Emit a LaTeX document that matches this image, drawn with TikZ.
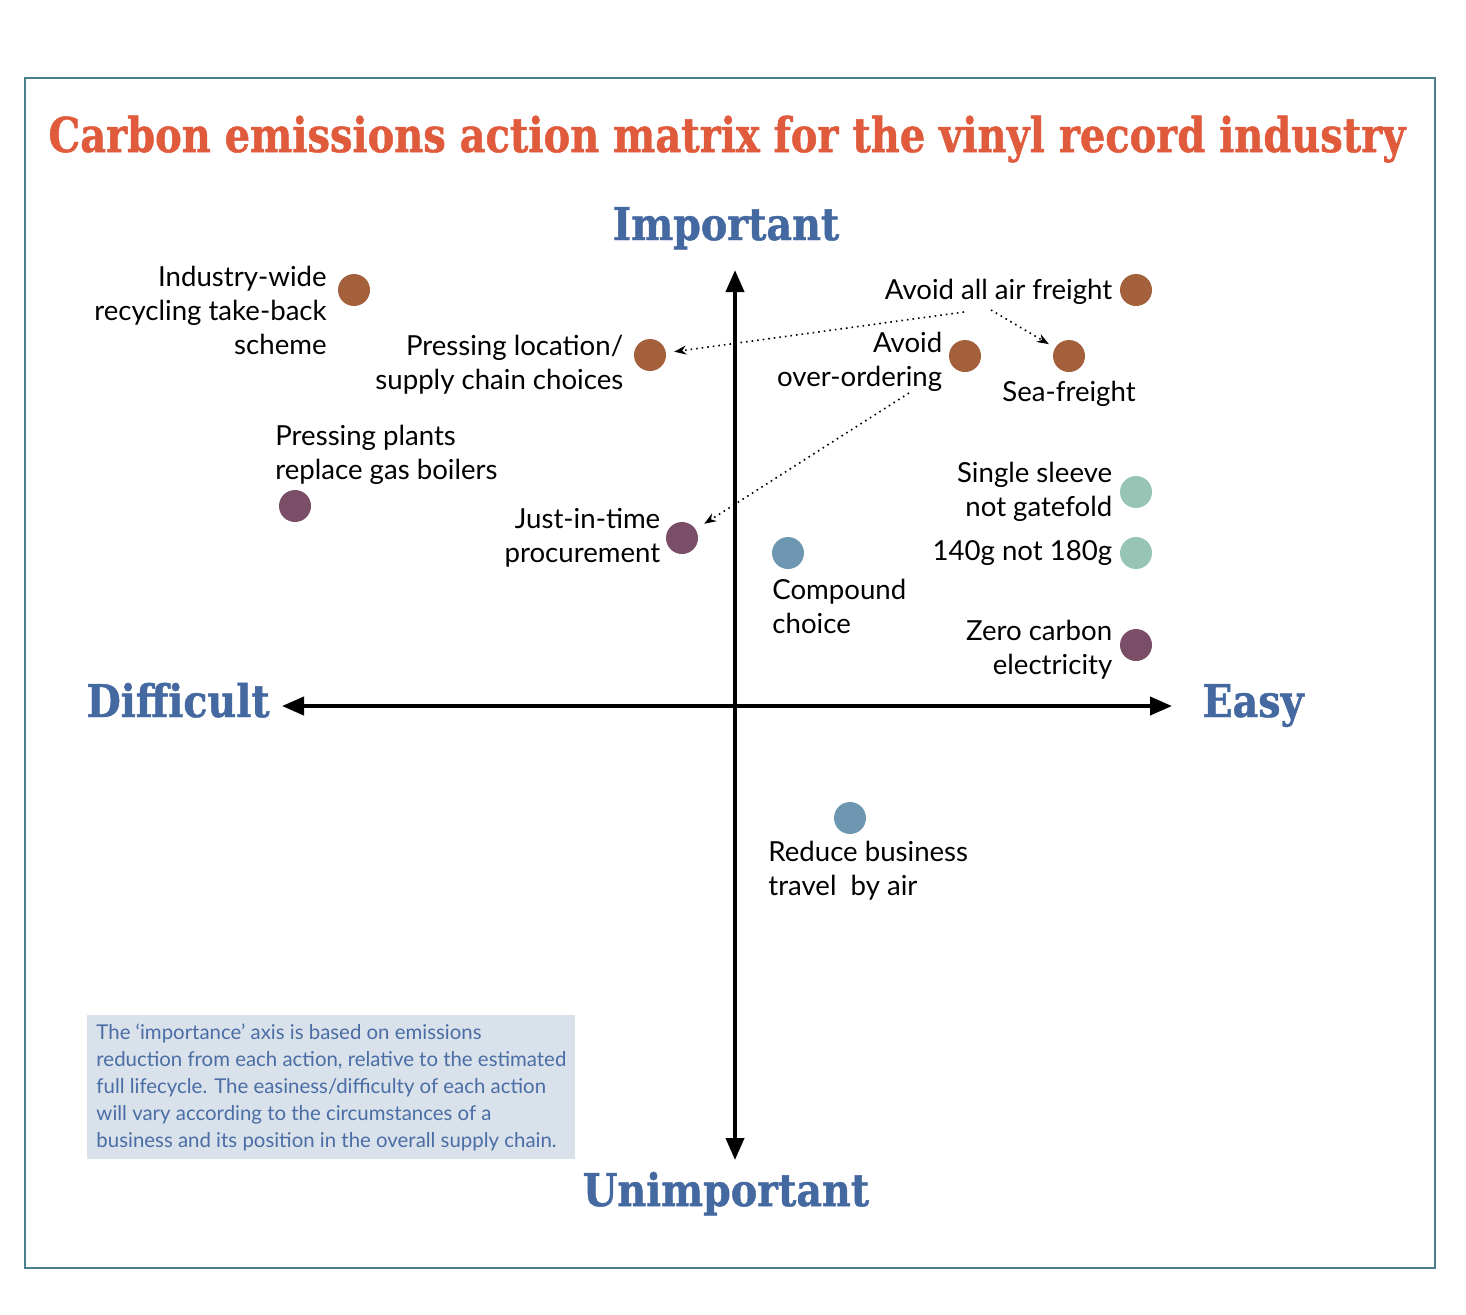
\documentclass[tikz,border=0pt]{standalone}
\usepackage{fontspec}
\setmainfont{Lato}
\newfontfamily\slabfont{DejaVu Serif}[FakeStretch=0.832,FakeBold=1]
\newfontfamily\axisfont{DejaVu Serif}[FakeStretch=0.88,FakeBold=1]
\usetikzlibrary{arrows.meta,positioning}
\definecolor{titlered}{HTML}{E05A3C}
\definecolor{axisblue}{HTML}{4468A0}
\definecolor{framecol}{HTML}{4C7F8E}
\definecolor{dotbrown}{HTML}{A3603A}
\definecolor{dotplum}{HTML}{7A4E66}
\definecolor{dotblue}{HTML}{6E98B2}
\definecolor{dotgreen}{HTML}{98C4B5}
\definecolor{notefill}{HTML}{D9E1EA}
\definecolor{notetext}{HTML}{4A6DA6}

\begin{document}
\begin{tikzpicture}[x=0.5pt,y=-0.5pt,
    dot/.style={circle, inner sep=0pt, minimum size=16pt},
    lbl/.style={font=\fontsize{13.8}{17}\selectfont, inner sep=0pt, align=right},
    lbll/.style={lbl, align=left, anchor=west},
    axislbl/.style={font=\axisfont\bfseries\fontsize{22.5}{26}\selectfont, text=axisblue, inner sep=0pt, anchor=base},
    axis/.style={line width=2pt, {Triangle[length=11pt,width=9pt]}-{Triangle[length=11pt,width=9pt]}},
    link/.style={dotted, line width=0.8pt, -{Stealth[length=6pt,width=4.5pt]}}]
  \useasboundingbox (0,0) rectangle (1466,1314);
  \draw[framecol, line width=1.2pt] (25,78) rectangle (1435,1268);
  \node[font=\slabfont\bfseries\fontsize{24}{28}\selectfont, text=titlered, inner sep=0pt, anchor=base] (title) at (727,152)
    {Carbon emissions action matrix for the vinyl record industry};

  % axes
  \node[axislbl] (important) at (726,240) {Important};
  \node[axislbl] (unimportant) at (726,1206) {Unimportant};
  \node[axislbl] (difficult) at (178,717) {Difficult};
  \node[axislbl] (easy) at (1253,717) {Easy};
  \coordinate (top) at (735,270);
  \coordinate (bottom) at (735,1160);
  \coordinate (left) at (282,706);
  \coordinate (right) at (1172,706);
  \draw[axis] (top) -- (bottom);
  \draw[axis] (left) -- (right);

  % actions
  \node[dot, fill=dotbrown] (recycling) at (354,290) {};
  \node[dot, fill=dotbrown] (airfreight) at (1136,290) {};
  \node[dot, fill=dotbrown] (location) at (650,355) {};
  \node[dot, fill=dotbrown] (overorder) at (965,356) {};
  \node[dot, fill=dotbrown] (seafreight) at (1069,356) {};
  \node[dot, fill=dotplum] (boilers) at (295,506) {};
  \node[dot, fill=dotplum] (justintime) at (682,538) {};
  \node[dot, fill=dotblue] (compound) at (788,553) {};
  \node[dot, fill=dotgreen] (sleeve) at (1136,492) {};
  \node[dot, fill=dotgreen] (weight) at (1136,553) {};
  \node[dot, fill=dotplum] (electricity) at (1136,645) {};
  \node[dot, fill=dotblue] (travel) at (850,818) {};

  \node[lbl, anchor=east] (recyclinglbl) at (327,310) {Industry-wide\\recycling take-back\\scheme};
  \node[lbl, left=3.5pt of airfreight, yshift=-1pt] (airlbl) {Avoid all air freight};
  \node[lbl, left=5pt of location, yshift=-5pt] (locationlbl) {Pressing location/\\supply chain choices};
  \node[lbl, left=3pt of overorder, yshift=-3pt] (overorderlbl) {Avoid\\over-ordering};
  \node[lbl, below=4pt of seafreight] (sealbl) {Sea-freight};
  \node[lbll] (boilerslbl) at (275,455) {Pressing plants\\replace gas boilers};
  \node[lbl, left=2.5pt of justintime, yshift=0.3pt] (justintimelbl) {Just-in-time\\procurement};
  \node[lbll] (compoundlbl) at (772,606) {Compound\\choice};
  \node[lbl, left=3.5pt of sleeve] (sleevelbl) {Single sleeve\\not gatefold};
  \node[lbl, left=3.5pt of weight] (weightlbl) {140g not 180g};
  \node[lbl, left=3.5pt of electricity, yshift=-2.3pt] (electricitylbl) {Zero carbon\\electricity};
  \node[lbll] (travellbl) at (768,871) {Reduce business\\travel\ \ by air};

  % knock-on effects
  \coordinate (airleft) at (964,312);
  \coordinate (airright) at (991,310);
  \coordinate (overorderfoot) at (909,393);
  \draw[link, shorten >=4pt] (airleft) -- (location);
  \draw[link, shorten >=3.5pt] (airright) -- (seafreight);
  \draw[link, shorten >=5pt] (overorderfoot) -- (justintime);

  % note
  \node[fill=notefill, text=notetext, anchor=north west, minimum width=244pt, minimum height=71pt,
    inner xsep=4pt, inner ysep=4pt, align=left, font=\fontsize{10.2}{13.5}\selectfont] (note) at (87,1015)
    {The ‘importance’ axis is based on emissions\\reduction from each action, relative to the estimated\\full lifecycle. The easiness/difficulty of each action\\will vary according to the circumstances of a\\business and its position in the overall supply chain.};
\end{tikzpicture}
\end{document}
